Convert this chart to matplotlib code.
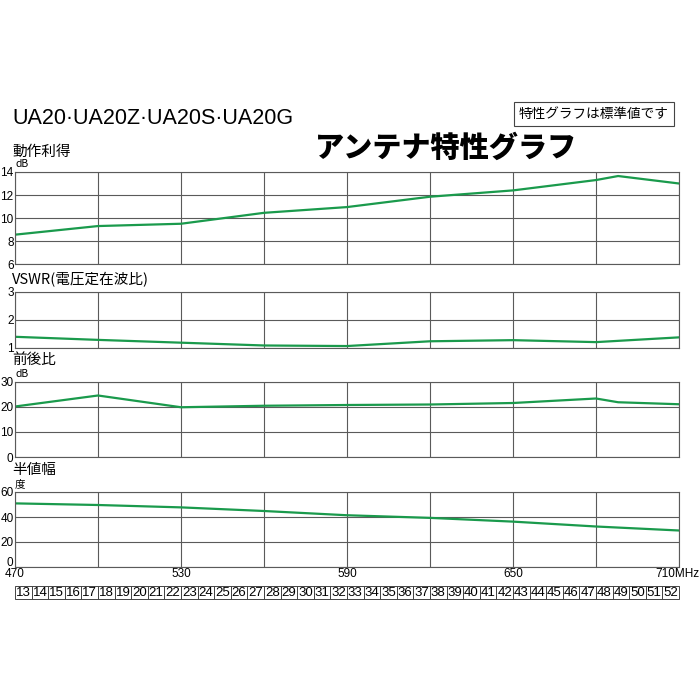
import matplotlib
matplotlib.use("Agg")
import matplotlib.pyplot as plt
import matplotlib.transforms as mtransforms
from matplotlib.patches import Rectangle

JP = ["Noto Sans CJK JP", "DejaVu Sans"]
LAT = ["Liberation Sans", "Noto Sans CJK JP"]
GREEN = "#1a9a4c"
GRID = "#5a5a5a"

# values (MHz -> value)
gain_freq = [470, 500, 530, 560, 590, 620, 650, 680, 688, 710]
gain_db = [8.55, 9.3, 9.5, 10.45, 10.95, 11.85, 12.4, 13.3, 13.65, 13.0]

vswr_freq = [470, 500, 530, 560, 590, 620, 650, 680, 710]
vswr = [1.40, 1.29, 1.19, 1.09, 1.07, 1.24, 1.28, 1.21, 1.38]

fb_freq = [470, 500, 530, 560, 590, 620, 650, 680, 688, 710]
fb_db = [20.2, 24.6, 19.9, 20.5, 20.8, 21.0, 21.6, 23.4, 21.9, 21.1]

beam_freq = [470, 500, 530, 560, 590, 620, 650, 680, 710]
beam_deg = [50.9, 49.6, 47.7, 44.8, 41.4, 39.3, 36.3, 32.4, 29.2]

grid_freqs = [470, 500, 530, 560, 590, 620, 650, 680, 710]
label_freqs = [470, 530, 590, 650]

channels = [13, 14, 15, 16, 17, 18, 19, 20, 21, 22, 23, 24, 25, 26, 27, 28,
            29, 30, 31, 32, 33, 34, 35, 36, 37, 38, 39, 40, 41, 42, 43, 44,
            45, 46, 47, 48, 49, 50, 51, 52]
ch_start_freq = 470
ch_width = 6

W = H = 700
L, R = 15, 679

fig = plt.figure(figsize=(7, 7), dpi=100)


def px(x, y):
    return x / W, 1 - y / H


def add_panel(top, bottom):
    return fig.add_axes([L / W, 1 - bottom / H, (R - L) / W, (bottom - top) / H])


def style(ax, ylim, yticks):
    ax.set_xlim(470, 710)
    ax.set_ylim(*ylim)
    ax.set_xticks(grid_freqs)
    ax.set_yticks(yticks)
    ax.grid(True, color=GRID, lw=0.8)
    ax.set_axisbelow(True)
    for s in ax.spines.values():
        s.set_color(GRID)
        s.set_linewidth(0.8)
    ax.tick_params(length=0, pad=1, labelsize=8.5)
    ax.set_xticklabels([])
    for t in ax.get_yticklabels():
        t.set_family(LAT)


# top, bottom, ylim, yticks, x, y, title, title offset, unit
panels = [
    (172, 264, (6, 14), [6, 8, 10, 12, 14], gain_freq, gain_db, "動作利得", 20, "dB"),
    (292, 348, (1, 3), [1, 2, 3], vswr_freq, vswr, "VSWR(電圧定在波比)", 12, None),
    (382, 457, (0, 30), [0, 10, 20, 30], fb_freq, fb_db, "前後比", 22, "dB"),
    (492, 567, (0, 60), [0, 20, 40, 60], beam_freq, beam_deg, "半値幅", 22, "度"),
]

axes = []
for top, bottom, ylim, yticks, xs, ys, title, off, unit in panels:
    ax = add_panel(top, bottom)
    style(ax, ylim, yticks)
    ax.plot(xs, ys, color=GREEN, lw=1.6, solid_joinstyle="round")
    fig.text(*px(12, top - off), title, family=JP, fontsize=10.5, va="center", ha="left")
    if unit:
        fig.text(*px(15, top - 8), unit, family=JP, fontsize=7.5, va="center", ha="left")
    axes.append(ax)

# frequency labels on the bottom panel
ax = axes[-1]
ax.set_xticklabels([str(f) if f in label_freqs else "" for f in grid_freqs],
                   family=LAT, fontsize=8.5)
fig.text(*px(699, 574), "710MHz", family=LAT, fontsize=8.5, ha="right", va="center")
# the bottom "0" sits a little above its line in the original
lbl0 = ax.get_yticklabels()[0]
lbl0.set_transform(lbl0.get_transform() +
                   mtransforms.ScaledTranslation(0, 5 / 100, fig.dpi_scale_trans))

# channel number row
cax = fig.add_axes([L / W, 1 - 599 / H, (R - L) / W, 13 / H])
cax.set_xlim(470, 710)
cax.set_ylim(0, 1)
cax.axis("off")
for ch in channels:
    x0 = ch_start_freq + ch_width * (ch - channels[0])
    cax.add_patch(Rectangle((x0, 0), ch_width, 1, fill=False, ec="#444444",
                            lw=0.7, clip_on=False))
    cax.text(x0 + ch_width / 2, 0.5, str(ch), ha="center", va="center",
             family=LAT, fontsize=9.5)

# header texts
fig.text(*px(12, 118), "UA20·UA20Z·UA20S·UA20G", family=LAT, fontsize=15.5,
         ha="left", va="center")
fig.text(*px(446, 148), "アンテナ特性グラフ", family=JP, fontsize=21,
         fontweight="heavy", ha="center", va="center")
fig.text(*px(594, 114), "特性グラフは標準値です", family=JP, fontsize=9.8,
         ha="center", va="center",
         bbox=dict(boxstyle="square,pad=0.38", fc="white", ec="#444444", lw=0.8))

fig.savefig("out.png", dpi=100)
